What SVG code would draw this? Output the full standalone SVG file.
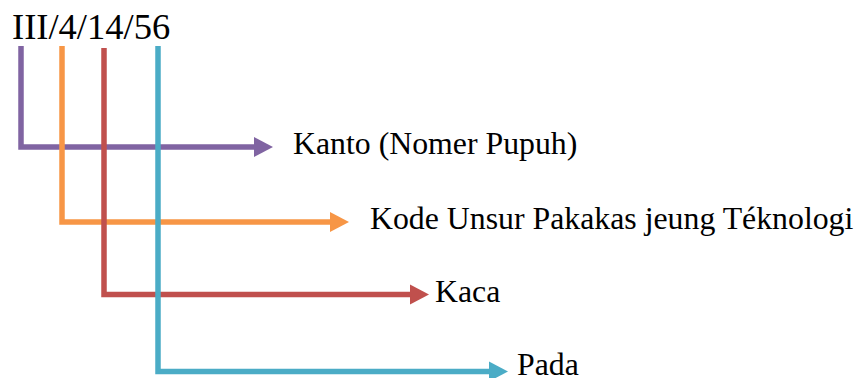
<svg xmlns="http://www.w3.org/2000/svg" width="858" height="378" viewBox="0 0 858 378">
  <style>
    text { font-family: "Liberation Serif", "Times New Roman", serif; fill: #000; }
    .code { font-size: 36.5px; }
    .lbl { font-size: 31.8px; }
    .conn { fill: none; stroke-width: 5.5; stroke-linejoin: miter; stroke-linecap: butt; }
  </style>
  <defs>
    <marker id="ahP" markerUnits="userSpaceOnUse" markerWidth="20" markerHeight="22" refX="0" refY="10" orient="auto" overflow="visible">
      <path d="M0,0 L19,10 L0,20 Z" fill="#8064A2"/>
    </marker>
    <marker id="ahO" markerUnits="userSpaceOnUse" markerWidth="20" markerHeight="22" refX="0" refY="10" orient="auto" overflow="visible">
      <path d="M0,0 L19,10 L0,20 Z" fill="#F79646"/>
    </marker>
    <marker id="ahR" markerUnits="userSpaceOnUse" markerWidth="20" markerHeight="22" refX="0" refY="10" orient="auto" overflow="visible">
      <path d="M0,0 L19,10 L0,20 Z" fill="#C0504D"/>
    </marker>
    <marker id="ahB" markerUnits="userSpaceOnUse" markerWidth="20" markerHeight="22" refX="0" refY="10" orient="auto" overflow="visible">
      <path d="M0,0 L19,10 L0,20 Z" fill="#4BACC6"/>
    </marker>
  </defs>

  <g id="code">
    <text class="code" x="12" y="39">III/4/14/56</text>
  </g>

  <g id="connectors">
    <path class="conn" d="M21,46 V147 H254" stroke="#8064A2" marker-end="url(#ahP)"/>
    <path class="conn" d="M62,46 V222 H330" stroke="#F79646" marker-end="url(#ahO)"/>
    <path class="conn" d="M104,48 V294.5 H410" stroke="#C0504D" marker-end="url(#ahR)"/>
    <path class="conn" d="M158,46 V371.5 H489" stroke="#4BACC6" marker-end="url(#ahB)"/>
  </g>

  <g id="node-kanto">
    <text class="lbl" x="293" y="154">Kanto (Nomer Pupuh)</text>
  </g>
  <g id="node-kode">
    <text class="lbl" x="370" y="229">Kode Unsur Pakakas jeung Téknologi</text>
  </g>
  <g id="node-kaca">
    <text class="lbl" x="435" y="302">Kaca</text>
  </g>
  <g id="node-pada">
    <text class="lbl" x="517" y="375">Pada</text>
  </g>
</svg>
